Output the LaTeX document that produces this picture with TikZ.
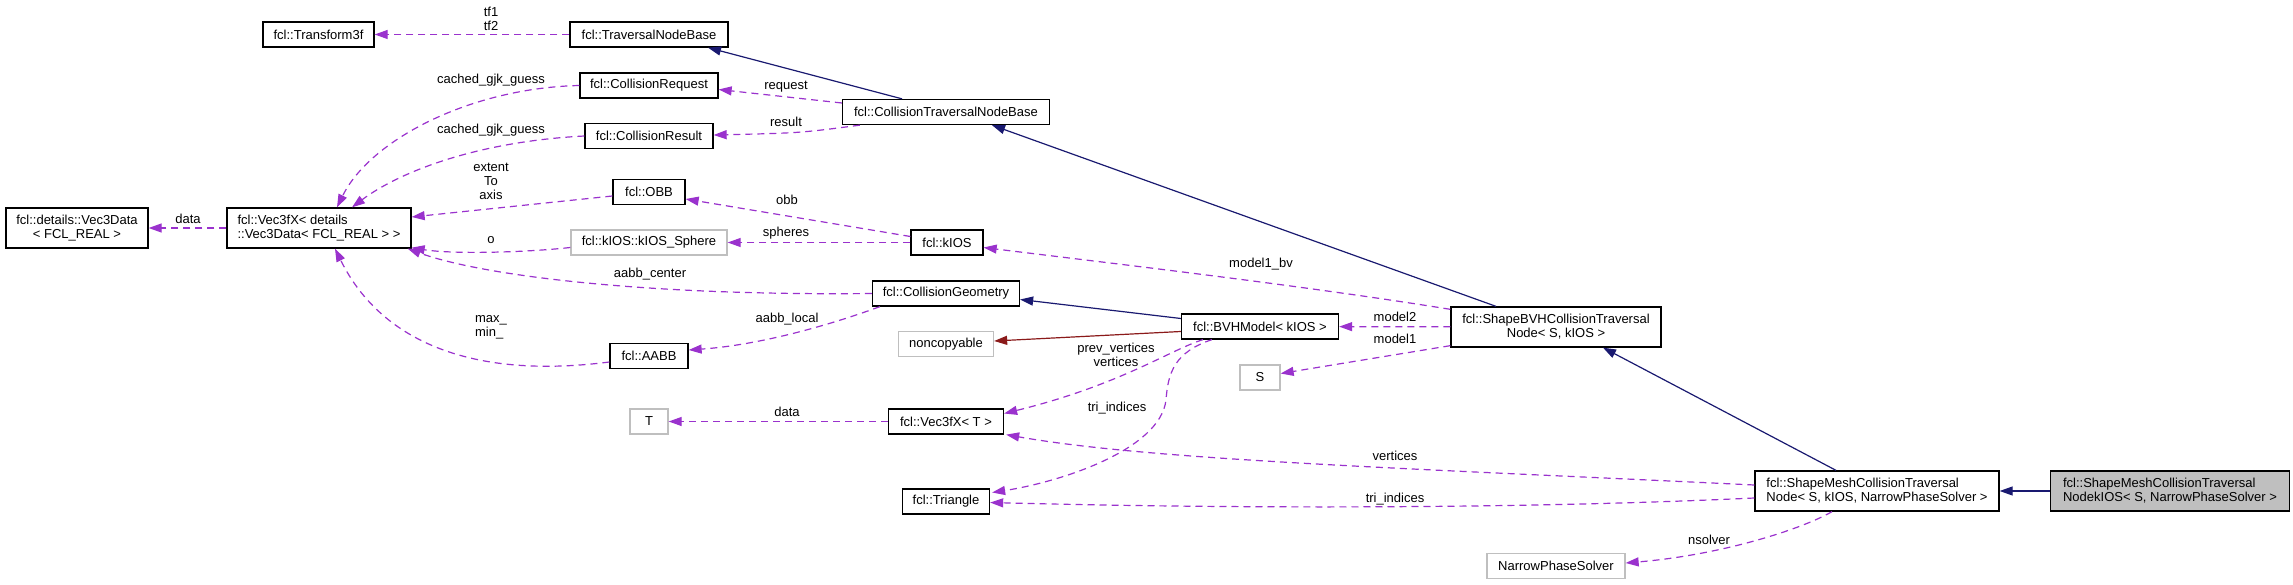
\documentclass[tikz,border=0pt]{standalone}
\usepackage{fontspec}
\setmainfont{Liberation Sans}
\usetikzlibrary{arrows.meta,calc}
\definecolor{usecol}{HTML}{9A32CD}
\definecolor{inhcol}{HTML}{191970}
\definecolor{privcol}{HTML}{8B1A1A}
\definecolor{extcol}{HTML}{BFBFBF}
\definecolor{selfcol}{HTML}{BFBFBF}

\begin{document}
\begin{tikzpicture}[
  x=1pt, y=-1pt,
  font=\fontsize{13}{14}\selectfont,
  cls/.style={draw, line width=1.3pt, minimum height=25pt, inner sep=2pt, align=center},
  ext/.style={cls, draw=extcol},
  self/.style={cls, fill=selfcol},
  use/.style={usecol, line width=1.2pt, dash pattern=on 7pt off 5pt,
              -{Triangle[length=13pt,width=9pt]}},
  inh/.style={inhcol, line width=1.2pt, -{Triangle[length=13pt,width=9pt]}},
  priv/.style={inh, privcol},
  lbl/.style={text=black, align=center, inner sep=0pt}
]
\useasboundingbox (0,0) rectangle (2293,585);
% left ranks
\node[cls, minimum width=142pt, minimum height=40pt] (V3d) at (77,228) {fcl::details::Vec3Data\\< FCL\_REAL >};
\node[cls, minimum width=184pt, minimum height=40pt, align=left] (Vxd) at (319,228) {fcl::Vec3fX< details\\::Vec3Data< FCL\_REAL > >};
\node[cls, minimum width=111pt] (T3f) at (318.5,34.5) {fcl::Transform3f};
\node[cls, minimum width=158pt] (TNB) at (649,34.5) {fcl::TraversalNodeBase};
\node[cls, minimum width=138pt] (CReq) at (649,85.5) {fcl::CollisionRequest};
\node[cls, minimum width=128pt] (CRes) at (649,136) {fcl::CollisionResult};
\node[cls, minimum width=72pt] (OBB) at (649,192) {fcl::OBB};
\node[ext, minimum width=156pt] (Sph) at (649,242.5) {fcl::kIOS::kIOS\_Sphere};
\node[cls, minimum width=78pt] (AABB) at (649,356) {fcl::AABB};
\node[ext, minimum width=38pt] (Tp) at (649,421.5) {T};
% middle ranks
\node[cls, minimum width=207pt] (CTNB) at (946,112) {fcl::CollisionTraversalNodeBase};
\node[cls, minimum width=72pt] (kIOS) at (947,242.5) {fcl::kIOS};
\node[cls, minimum width=147pt] (CGeo) at (946,293.5) {fcl::CollisionGeometry};
\node[ext, minimum width=95pt] (NoCp) at (946,344) {noncopyable};
\node[cls, minimum width=115pt] (VxT) at (946,421.5) {fcl::Vec3fX< T >};
\node[cls, minimum width=87pt] (Tri) at (946,501.5) {fcl::Triangle};
\node[cls, minimum width=157pt] (BVH) at (1260,326.5) {fcl::BVHModel< kIOS >};
\node[ext, minimum width=40pt] (Sp) at (1260,377.5) {S};
% right ranks
\node[cls, minimum width=210pt, minimum height=40pt] (SBVH) at (1556,327) {fcl::ShapeBVHCollisionTraversal\\Node< S, kIOS >};
\node[ext, minimum width=138pt] (NPS) at (1556,566) {NarrowPhaseSolver};
\node[cls, minimum width=244pt, minimum height=40pt, align=left] (SMesh) at (1877,491) {fcl::ShapeMeshCollisionTraversal\\Node< S, kIOS, NarrowPhaseSolver >};
\node[self, minimum width=239pt, minimum height=40pt, align=left] (Self) at (2170,491) {fcl::ShapeMeshCollisionTraversal\\NodekIOS< S, NarrowPhaseSolver >};
% inheritance
\draw[inh] (Self) -- (SMesh);
\draw[inh] ($(SMesh.north)+(-41,0)$) -- ($(SBVH.south)+(47,0)$);
\draw[inh] ($(SBVH.north)+(-60,0)$) -- ($(CTNB.south)+(46,0)$);
\draw[inh] ($(CTNB.north)+(-44,0)$) -- ($(TNB.south)+(59,0)$);
\draw[inh] ($(BVH.west)+(0,-8)$) -- ($(CGeo.east)+(0,6)$);
\draw[priv] ($(BVH.west)+(0,5)$) -- ($(NoCp.east)+(0,-3)$);
% usage
\draw[use] (TNB) -- (T3f) node[lbl] at (491,19) {tf1\\tf2};
\draw[use] ($(CTNB.west)+(0,-9)$) -- ($(CReq.east)+(0,4)$) node[lbl] at (786,87) {request};
\draw[use] ($(CTNB.south west)+(18,0)$) .. controls (800,133) .. ($(CRes.east)+(0,-1)$) node[lbl] at (786,122) {result};
\draw[use] (CReq.west) .. controls (470,88) and (370,140) .. ($(Vxd.north)+(18,0)$) node[lbl] at (491,80) {cached\_gjk\_guess};
\draw[use] (CRes.west) .. controls (470,142) and (395,175) .. ($(Vxd.north)+(33,0)$) node[lbl] at (491,130) {cached\_gjk\_guess};
\draw[use] ($(OBB.west)+(0,4)$) -- ($(Vxd.east)+(0,-11)$) node[lbl] at (491,181) {extent\\To\\axis};
\draw[use] ($(Sph.west)+(0,5)$) .. controls (520,253) and (450,254) .. ($(Vxd.south east)+(0,-1)$) node[lbl] at (491,240) {o};
\draw[use] (CGeo.west) .. controls (640,296) and (480,275) .. ($(Vxd.south east)+(-4,0)$) node[lbl] at (650,274) {aabb\_center};
\draw[use] ($(AABB.west)+(0,6)$) .. controls (470,380) and (380,340) .. ($(Vxd.south)+(16,0)$) node[lbl, align=left] at (491,327) {max\_\\min\_};
\draw[use] ($(CGeo.south west)+(8,0)$) .. controls (830,325) and (760,345) .. ($(AABB.east)+(0,-6)$) node[lbl] at (787,319) {aabb\_local};
\draw[use] ($(kIOS.west)+(0,-6)$) -- ($(OBB.east)+(0,7)$) node[lbl] at (787,200) {obb};
\draw[use] (kIOS) -- (Sph) node[lbl] at (786,233) {spheres};
\draw[use] ($(SBVH.north west)+(0,3)$) .. controls (1300,285) and (1100,262) .. ($(kIOS.east)+(0,5)$) node[lbl] at (1261,264) {model1\_bv};
\draw[use] (SBVH) -- (BVH) node[lbl] at (1395,317) {model2};
\draw[use] ($(SBVH.south west)+(0,-2)$) -- ($(Sp.east)+(0,-4)$) node[lbl] at (1395,339) {model1};
\draw[use] ($(BVH.south west)+(22,0)$) .. controls (1170,350) and (1120,385) .. ($(VxT.east)+(0,-8)$) node[lbl] at (1116,355) {prev\_vertices\\vertices};
\draw[use] ($(BVH.south west)+(31,0)$) .. controls (1175,352) and (1168,372) .. (1166,400) .. controls (1160,450) and (1060,482) .. ($(Tri.east)+(2,-9)$) node[lbl] at (1117,408) {tri\_indices};
\draw[use] (VxT) -- (Tp) node[lbl] at (787,412) {data};
\draw[use] (Vxd) -- (V3d) node[lbl] at (188,219) {data};
\draw[use] ($(SMesh.west)+(0,-6)$) .. controls (1400,468) and (1150,460) .. ($(VxT.south east)+(2,0)$) node[lbl] at (1395,456) {vertices};
\draw[use] ($(SMesh.west)+(0,7)$) .. controls (1500,510) and (1200,508) .. ($(Tri.east)+(0,1)$) node[lbl] at (1395,499) {tri\_indices};
\draw[use] ($(SMesh.south)+(-45,0)$) .. controls (1800,530) and (1720,555) .. ($(NPS.east)+(0,-3)$) node[lbl] at (1709,540) {nsolver};
\end{tikzpicture}
\end{document}
